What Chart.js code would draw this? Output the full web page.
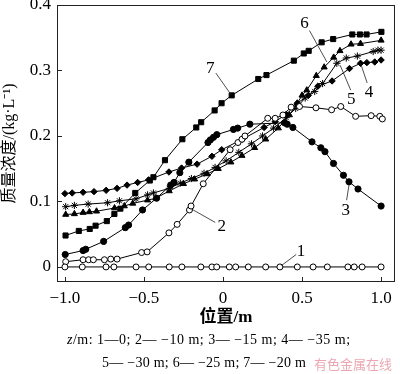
<!DOCTYPE html>
<html>
<head>
<meta charset="utf-8">
<script src="https://cdn.jsdelivr.net/npm/chart.js@4.4.1/dist/chart.umd.min.js"></script>
<style>
  html, body { margin: 0; padding: 0; background: #fff; }
  canvas { display: block; }
</style>
</head>
<body>
<canvas id="chart" width="400" height="374"></canvas>
<script>
// tick values
const xTicks = [-1.0, -0.5, 0, 0.5, 1.0];
const yTicks = [0, 0.1, 0.2, 0.3, 0.4];

// curve 1: z = 0
const pos1 = [-1.0, -0.89, -0.74, -0.69, -0.55, -0.47, -0.34, -0.26, -0.14, -0.07, -0.04, 0.04, 0.08, 0.16, 0.27, 0.36, 0.47, 0.57, 0.66, 0.79, 0.83, 0.88, 1.0];
const conc1 = [0, 0, 0, 0, 0, 0, 0, 0, 0, 0, 0, 0, 0, 0, 0, 0, 0, 0, 0, 0, 0, 0, 0];

// curve 2: z = -10 m
const pos2 = [-0.995, -0.885, -0.85, -0.82, -0.75, -0.71, -0.67, -0.515, -0.48, -0.342, -0.29, -0.212, -0.202, -0.125, 0.045, 0.095, 0.12, 0.139, 0.283, 0.33, 0.379, 0.431, 0.484, 0.588, 0.687, 0.745, 0.839, 0.937, 0.992, 1.008];
const conc2 = [0.008, 0.011, 0.011, 0.011, 0.011, 0.012, 0.012, 0.022, 0.023, 0.052, 0.065, 0.087, 0.093, 0.127, 0.179, 0.19, 0.195, 0.2, 0.227, 0.227, 0.232, 0.244, 0.245, 0.243, 0.24, 0.245, 0.23, 0.231, 0.23, 0.226];

// curve 3: z = -15 m
const pos3 = [-0.998, -0.885, -0.868, -0.755, -0.618, -0.597, -0.509, -0.42, -0.331, -0.31, -0.273, -0.216, -0.095, -0.08, -0.06, -0.039, 0.066, 0.093, 0.17, 0.39, 0.406, 0.442, 0.563, 0.619, 0.645, 0.699, 0.762, 0.797, 0.854, 1.0];
const conc3 = [0.019, 0.025, 0.027, 0.039, 0.06, 0.064, 0.087, 0.105, 0.125, 0.129, 0.144, 0.16, 0.19, 0.194, 0.198, 0.202, 0.21, 0.212, 0.218, 0.22, 0.218, 0.213, 0.191, 0.182, 0.176, 0.158, 0.14, 0.13, 0.119, 0.093];

// curve 4: z = -35 m
const pos4 = [-1.0, -0.954, -0.885, -0.816, -0.739, -0.67, -0.607, -0.54, -0.47, -0.342, -0.262, -0.164, -0.07, -0.008, 0.122, 0.26, 0.33, 0.4, 0.47, 0.54, 0.6, 0.69, 0.8, 0.87, 0.91, 0.96, 1.0];
const conc4 = [0.112, 0.113, 0.114, 0.115, 0.117, 0.12, 0.125, 0.129, 0.133, 0.145, 0.151, 0.157, 0.169, 0.179, 0.195, 0.213, 0.222, 0.233, 0.25, 0.262, 0.276, 0.284, 0.303, 0.311, 0.312, 0.313, 0.316];

// curve 5: z = -30 m
const pos5 = [-0.995, -0.94, -0.853, -0.73, -0.655, -0.55, -0.477, -0.44, -0.34, -0.27, -0.2, -0.12, -0.05, 0.02, 0.1, 0.18, 0.25, 0.32, 0.4, 0.46, 0.52, 0.58, 0.63, 0.72, 0.78, 0.85, 0.95, 0.98, 1.0];
const conc5 = [0.092, 0.094, 0.096, 0.098, 0.101, 0.104, 0.11, 0.113, 0.12, 0.128, 0.135, 0.143, 0.152, 0.162, 0.175, 0.188, 0.2, 0.212, 0.228, 0.242, 0.258, 0.268, 0.28, 0.311, 0.319, 0.322, 0.329, 0.331, 0.331];

// curve 6: z = -25 m
const pos6 = [-0.995, -0.94, -0.885, -0.845, -0.8, -0.686, -0.624, -0.571, -0.477, -0.425, -0.34, -0.25, -0.18, -0.1, -0.03, 0.05, 0.12, 0.2, 0.27, 0.35, 0.42, 0.47, 0.5, 0.53, 0.59, 0.64, 0.7, 0.74, 0.81, 0.87, 1.0];
const conc6 = [0.08, 0.081, 0.083, 0.084, 0.085, 0.09, 0.093, 0.097, 0.102, 0.105, 0.116, 0.127, 0.134, 0.142, 0.15, 0.16, 0.17, 0.182, 0.195, 0.212, 0.232, 0.25, 0.262, 0.27, 0.292, 0.305, 0.32, 0.33, 0.34, 0.341, 0.346];

// curve 7: z = -20 m
const pos7 = [-0.996, -0.912, -0.843, -0.806, -0.735, -0.687, -0.649, -0.555, -0.463, -0.44, -0.367, -0.257, -0.169, -0.138, -0.053, -0.009, 0.055, 0.223, 0.275, 0.448, 0.511, 0.542, 0.624, 0.697, 0.818, 0.866, 0.908, 1.002];
const conc7 = [0.048, 0.055, 0.058, 0.063, 0.07, 0.081, 0.089, 0.113, 0.132, 0.137, 0.163, 0.195, 0.213, 0.221, 0.239, 0.25, 0.262, 0.287, 0.293, 0.315, 0.326, 0.33, 0.343, 0.348, 0.355, 0.355, 0.355, 0.359];

const curveNames = ['1', '2', '3', '4', '5', '6', '7'];
const legendLine1 = '/m: 1\u20140; 2\u2014 \u221210 m; 3\u2014 \u221215 m; 4\u2014 \u221235 m;';
const legendLine2 = '5\u2014 \u221230 m; 6\u2014 \u221225 m; 7\u2014 \u221220 m';
const watermark = '有色金属在线';

// callout placement (data coords): label point, leader start, leader end
const callouts = [
  { text: '1', at: [0.494, 0.023], from: [0.463, 0.019], to: [0.369, 0.002] },
  { text: '2', at: [-0.008, 0.061], from: [-0.049, 0.068], to: [-0.196, 0.088] },
  { text: '3', at: [0.776, 0.086], from: [0.782, 0.102], to: [0.797, 0.125] },
  { text: '4', at: [0.923, 0.267], from: [0.912, 0.281], to: [0.87, 0.311] },
  { text: '5', at: [0.812, 0.255], from: [0.808, 0.27], to: [0.741, 0.308] },
  { text: '6', at: [0.515, 0.372], from: [0.547, 0.361], to: [0.657, 0.313] },
  { text: '7', at: [-0.08, 0.303], from: [-0.045, 0.296], to: [0.051, 0.263] },
];

const serif = '"Liberation Serif", "Noto Sans CJK SC", serif';
Chart.defaults.font.family = serif;
Chart.defaults.color = '#000';

function pairs(xs, ys) {
  return xs.map((x, i) => ({ x: x, y: ys[i] }));
}

function series(label, xs, ys, style, radius, fill) {
  return {
    label: label,
    data: pairs(xs, ys),
    showLine: true,
    borderColor: '#000',
    borderWidth: 1,
    pointStyle: style,
    pointRadius: radius,
    pointBorderWidth: 1,
    pointBorderColor: '#000',
    pointBackgroundColor: fill,
    tension: 0,
  };
}

function fmt(v) {
  if (v === 0) return '0';
  return (v < 0 ? '\u2212' : '') + Math.abs(v).toFixed(1);
}

const decor = {
  id: 'decor',
  afterDatasetsDraw(chart) {
    const { ctx, chartArea: a, scales: { x, y } } = chart;
    ctx.save();
    ctx.strokeStyle = '#222';
    ctx.lineWidth = 1;
    ctx.strokeRect(a.left + 0.5, a.top + 0.5, a.right - a.left - 1, a.bottom - a.top - 1);
    ctx.beginPath();
    xTicks.forEach(v => {
      const px = Math.round(x.getPixelForValue(v)) + 0.5;
      ctx.moveTo(px, a.bottom);
      ctx.lineTo(px, a.bottom - 5);
    });
    yTicks.forEach(v => {
      const py = Math.round(y.getPixelForValue(v)) + 0.5;
      ctx.moveTo(a.left, py);
      ctx.lineTo(a.left + 5, py);
    });
    ctx.stroke();

    // curve numbers with leader lines
    ctx.lineWidth = 0.8;
    ctx.font = '17px ' + serif;
    ctx.textAlign = 'center';
    ctx.textBaseline = 'middle';
    ctx.fillStyle = '#000';
    callouts.forEach(c => {
      ctx.beginPath();
      ctx.moveTo(x.getPixelForValue(c.from[0]), y.getPixelForValue(c.from[1]));
      ctx.lineTo(x.getPixelForValue(c.to[0]), y.getPixelForValue(c.to[1]));
      ctx.stroke();
      ctx.fillText(c.text, x.getPixelForValue(c.at[0]), y.getPixelForValue(c.at[1]));
    });

    // depth legend under the chart
    ctx.textAlign = 'left';
    ctx.letterSpacing = '0.5px';
    ctx.font = 'italic 14px ' + serif;
    ctx.fillText('z', 67, 340);
    const zw = ctx.measureText('z').width;
    ctx.font = '14px ' + serif;
    ctx.fillText(legendLine1, 67 + zw, 340);
    ctx.letterSpacing = '0.25px';
    ctx.fillText(legendLine2, 102, 363);
    ctx.letterSpacing = '0px';

    ctx.font = '13px "Noto Sans CJK SC"';
    ctx.fillStyle = 'rgba(232,150,165,0.85)';
    ctx.fillText(watermark, 314, 364);
    ctx.restore();
  }
};

new Chart(document.getElementById('chart'), {
  type: 'scatter',
  data: {
    datasets: [
      series(curveNames[0], pos1, conc1, 'circle', 3, '#fff'),
      series(curveNames[1], pos2, conc2, 'circle', 3, '#fff'),
      series(curveNames[2], pos3, conc3, 'circle', 3.1, '#000'),
      series(curveNames[3], pos4, conc4, 'rectRot', 3.2, '#000'),
      series(curveNames[4], pos5, conc5, 'star', 3.6, '#000'),
      series(curveNames[5], pos6, conc6, 'triangle', 3.5, '#000'),
      series(curveNames[6], pos7, conc7, 'rect', 3.6, '#000'),
    ],
  },
  options: {
    responsive: false,
    animation: false,
    layout: { padding: { top: 4, right: 2, left: 0, bottom: 0 } },
    plugins: { legend: { display: false }, tooltip: { enabled: false } },
    scales: {
      x: {
        type: 'linear',
        min: -1.05,
        max: 1.088,
        grid: { display: false, drawTicks: false },
        border: { display: false },
        afterBuildTicks: s => { s.ticks = xTicks.map(v => ({ value: v })); },
        afterFit: s => { s.height = 92; s.paddingLeft = 0; s.paddingRight = 0; },
        ticks: { padding: 6, font: { size: 17 }, maxRotation: 0, callback: v => fmt(v) },
        title: { display: true, text: '位置/m', font: { size: 17, weight: 'bold' }, padding: { top: 0, bottom: 46 } },
      },
      y: {
        type: 'linear',
        min: -0.023,
        max: 0.4,
        grid: { display: false, drawTicks: false },
        border: { display: false },
        afterBuildTicks: s => { s.ticks = yTicks.map(v => ({ value: v })); },
        afterFit: s => { s.width = 57; s.paddingTop = 0; s.paddingBottom = 0; },
        ticks: { padding: 6, font: { size: 17 }, callback: v => (v === 0 ? '0' : v.toFixed(1)) },
        title: { display: true, text: '质量浓度/(kg·L⁻¹)', font: { size: 16 }, padding: { top: 0, bottom: 0 } },
      },
    },
  },
  plugins: [decor],
});
</script>
</body>
</html>
